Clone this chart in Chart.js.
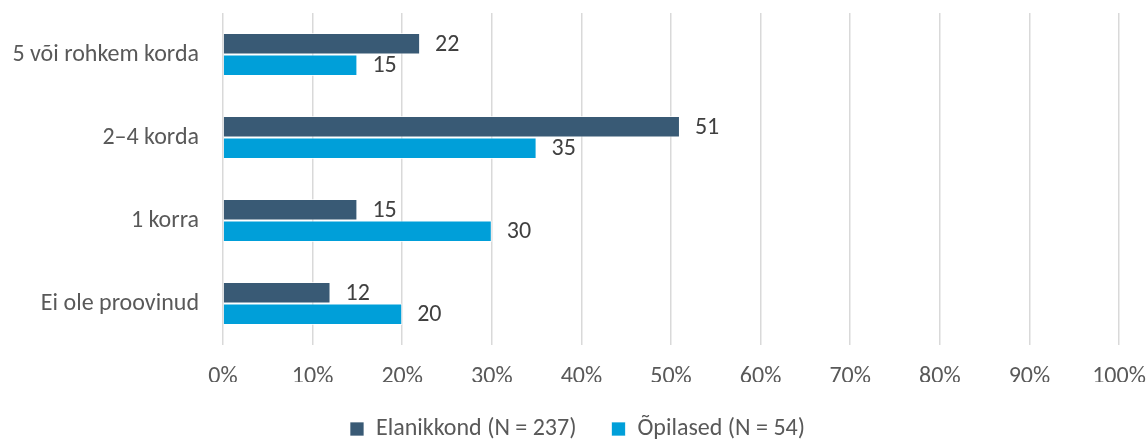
<!DOCTYPE html>
<html>
<head>
<meta charset="utf-8">
<script src="https://cdn.jsdelivr.net/npm/chart.js@4"></script>
<style>
  html, body { margin: 0; padding: 0; background: #ffffff; }
  #wrap { width: 1147px; height: 439px; position: relative; }
</style>
</head>
<body>
<div id="wrap"><canvas id="chart"></canvas></div>
<script>
// --- DATA ---
const categories = ["5 või rohkem korda", "2–4 korda", "1 korra", "Ei ole proovinud"];
const seriesNames = ["Elanikkond (N = 237)", "Õpilased (N = 54)"];
const elanikkond = [22, 51, 15, 12];
const opilased = [15, 35, 30, 20];

const FONT = "Carlito, Lato, 'Open Sans', sans-serif";
const COLORS = ["#395A75", "#009FD9"];

// pick a font size so the longest category label is as wide as in the original (~187px)
const probe = document.createElement('canvas').getContext('2d');
probe.font = "100px " + FONT;
const FONT_SIZE = Math.round(187 / probe.measureText(categories[0]).width * 100 * 2) / 2;

// layout targets (px)
const PLOT_TOP = 13, PLOT_BOTTOM = 345, LEGEND_MID = 429, LEGEND_PAD = 35;
const LEGEND_H = 439 - (LEGEND_MID - LEGEND_PAD - FONT_SIZE / 2);
const XAXIS_H = 439 - PLOT_BOTTOM - LEGEND_H;

// value labels to the right of each bar
const barLabels = {
    id: 'barLabels',
    afterDatasetsDraw(chart) {
        const ctx = chart.ctx;
        ctx.save();
        ctx.font = FONT_SIZE + "px " + FONT;
        ctx.fillStyle = "#404040";
        ctx.textAlign = "left";
        ctx.textBaseline = "middle";
        chart.data.datasets.forEach((ds, i) => {
            chart.getDatasetMeta(i).data.forEach((bar, j) => {
                ctx.fillText(ds.data[j], bar.x + 15, bar.y + 1);
            });
        });
        ctx.restore();
    }
};

// legend: keep the wide gap between items but not the tall box, nudge it right a bit
const legendFix = {
    id: 'legendFix',
    beforeLayout(chart) {
        const lg = chart.legend;
        if (lg && !lg._fixed) {
            const origFit = lg.fit;
            lg.fit = function () {
                origFit.call(this);
                this.height = LEGEND_H;
            };
            lg._fixed = true;
        }
    },
    afterLayout(chart) {
        const lg = chart.legend;
        if (lg) { lg.left += 18; lg.right += 18; }
    }
};

new Chart(document.getElementById('chart'), {
    type: 'bar',
    data: {
        labels: categories,
        datasets: [
            { label: seriesNames[0], data: elanikkond, backgroundColor: COLORS[0], borderColor: "rgba(255,255,255,0.7)", borderWidth: 1 },
            { label: seriesNames[1], data: opilased, backgroundColor: COLORS[1], borderColor: "rgba(255,255,255,0.7)", borderWidth: 1 }
        ]
    },
    options: {
        indexAxis: 'y',
        responsive: true,
        maintainAspectRatio: false,
        animation: false,
        categoryPercentage: 0.52,
        barPercentage: 1.0,
        layout: { padding: { top: PLOT_TOP, right: 28, left: 0, bottom: 0 } },
        scales: {
            x: {
                min: 0, max: 100,
                ticks: {
                    stepSize: 10,
                    callback: v => v + "%",
                    font: { family: FONT, size: FONT_SIZE },
                    color: "#595959",
                    padding: 32 - FONT_SIZE * 0.6
                },
                grid: { color: "#d9d9d9", lineWidth: 1.5, drawTicks: false },
                border: { display: false },
                afterFit(scale) {
                    scale.height = XAXIS_H;
                    scale.paddingLeft = 0;
                    scale.paddingRight = 0;
                }
            },
            y: {
                ticks: {
                    font: { family: FONT, size: FONT_SIZE },
                    color: "#595959",
                    padding: 16
                },
                grid: { display: false },
                border: { display: false },
                afterFit(scale) {
                    scale.width = 223;
                    scale.paddingTop = 0;
                    scale.paddingBottom = 0;
                }
            }
        },
        plugins: {
            legend: {
                position: 'bottom',
                labels: {
                    font: { family: FONT, size: FONT_SIZE },
                    color: "#595959",
                    boxWidth: 14,
                    boxHeight: 14,
                    padding: LEGEND_PAD
                }
            },
            tooltip: { enabled: false }
        }
    },
    plugins: [barLabels, legendFix]
});
</script>
</body>
</html>
